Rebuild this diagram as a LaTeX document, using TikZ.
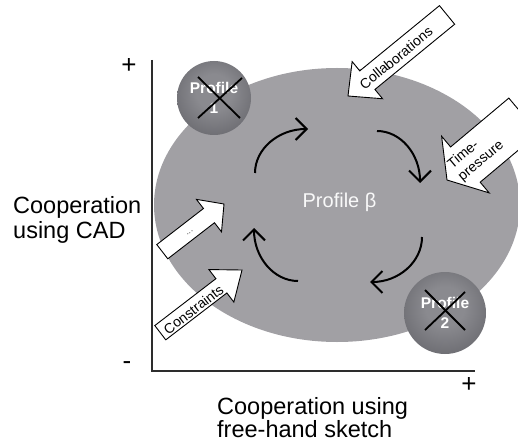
\documentclass[tikz,border=0pt]{standalone}
\usepackage{fontspec}
\setmainfont{Liberation Sans}
\usetikzlibrary{arrows.meta}
\definecolor{blob}{RGB}{161,160,164}
\definecolor{sphin}{RGB}{138,138,143}
\definecolor{sphout}{RGB}{74,74,80}
\definecolor{axisc}{RGB}{45,45,45}
\pgfdeclareradialshading{sphereshade}{\pgfpoint{0bp}{5bp}}{color(0bp)=(sphin); color(12bp)=(sphin); color(50bp)=(sphout); color(70bp)=(sphout)}
\newcommand{\blockarr}[7]{% #1 name, #2 tip, #3 angle, #4 length, #5 body width, #6 head width, #7 head length
  \begin{scope}[shift={#2}, rotate=#3]
    \draw[barrow] (0,0) -- (#7,#6/2) -- (#7,#5/2) -- (#4,#5/2) -- (#4,-#5/2) -- (#7,-#5/2) -- (#7,-#6/2) -- cycle;
    \coordinate (#1) at (0,0);
  \end{scope}}
\begin{document}
\begin{tikzpicture}[x=1pt,y=1pt,
  loopar/.style={line width=2pt, -{Straight Barb[length=11pt,width=22pt,line width=2pt]}},
  barrow/.style={draw=black, fill=white, line width=0.9pt, line join=miter},
  arrtxt/.style={font=\fontsize{14}{16}\selectfont, inner sep=0pt},
  lbl/.style={font=\fontsize{23.5}{27}\selectfont, inner sep=0pt},
  sign/.style={font=\fontsize{26}{30}\selectfont, inner sep=0pt},
  axis/.style={draw=axisc, line width=1.3pt},
  sphere/.style={circle, inner sep=0pt, shading=sphereshade, align=center, text=white,
     font=\fontsize{15.5}{20}\selectfont\bfseries},
  cross/.style={draw=black, line width=1.8pt}]
\useasboundingbox (0,0) rectangle (518,442);
% axes
\coordinate (O) at (152,71);
\coordinate (ytop) at (152,382);
\coordinate (xend) at (475,71);
\draw[axis] (ytop) -- (O) -- (xend);
\node[sign] (yplus) at (129,376) {+};
\node[sign] (yminus) at (127,76) {-};
\node[sign] (xplus) at (469,57) {+};
% labels
\node[lbl, anchor=base west] (yl1) at (13,229) {Cooperation};
\node[lbl, anchor=base west] (yl2) at (13,204) {using CAD};
\node[lbl, anchor=base west] (xl1) at (217,28) {Cooperation using};
\node[lbl, anchor=base west] (xl2) at (217,5) {free-hand sketch};
% blob
\fill[blob] (337,237) ellipse [x radius=183pt, y radius=137pt];
% cycle arrows
\draw[loopar] (255,269) arc [start angle=180, end angle=90, x radius=53pt, y radius=44pt];
\draw[loopar] (377,311) arc [start angle=90, end angle=0, x radius=43pt, y radius=52pt];
\draw[loopar] (422,205) arc [start angle=0, end angle=-90, x radius=52pt, y radius=45pt];
\draw[loopar] (298,161) arc [start angle=270, end angle=180, x radius=44pt, y radius=53pt];
\node[font=\fontsize{20}{24}\selectfont, text=white!95!gray, anchor=base, inner sep=0pt] (pb) at (339.5,234) {Profile β};
% spheres
\node[sphere, minimum size=74pt] (p1) at (214,344) {Profile\\1};
\draw[cross] (198,365) -- (240,324);
\draw[cross] (242,364) -- (198,324);
\node[sphere, minimum size=82pt] (p2) at (445,129) {Profile\\2};
\draw[cross] (425,152) -- (465,112);
\draw[cross] (465,150) -- (425,112);
% block arrows
\blockarr{collab}{(348,346)}{39.3}{128}{24}{48}{25}
\node[arrtxt, rotate=39.3] (tcollab) at (396,384) {Collaborations};
\blockarr{timep}{(447,262)}{40}{100}{46}{74}{24}
\node[arrtxt, rotate=40, align=left] (ttimep) at (476,287) {Time-\\pressure};
\blockarr{dots}{(224,238)}{217.7}{78}{18}{41}{19}
\node[arrtxt, rotate=37.7, text=black!60, font=\fontsize{10}{12}\selectfont] (tdots) at (190,209) {...};
\blockarr{constr}{(242,172)}{217.5}{103}{18}{41}{26}
\node[arrtxt, rotate=37.5] (tconstr) at (193.5,132.5) {Constraints};
\end{tikzpicture}
\end{document}
